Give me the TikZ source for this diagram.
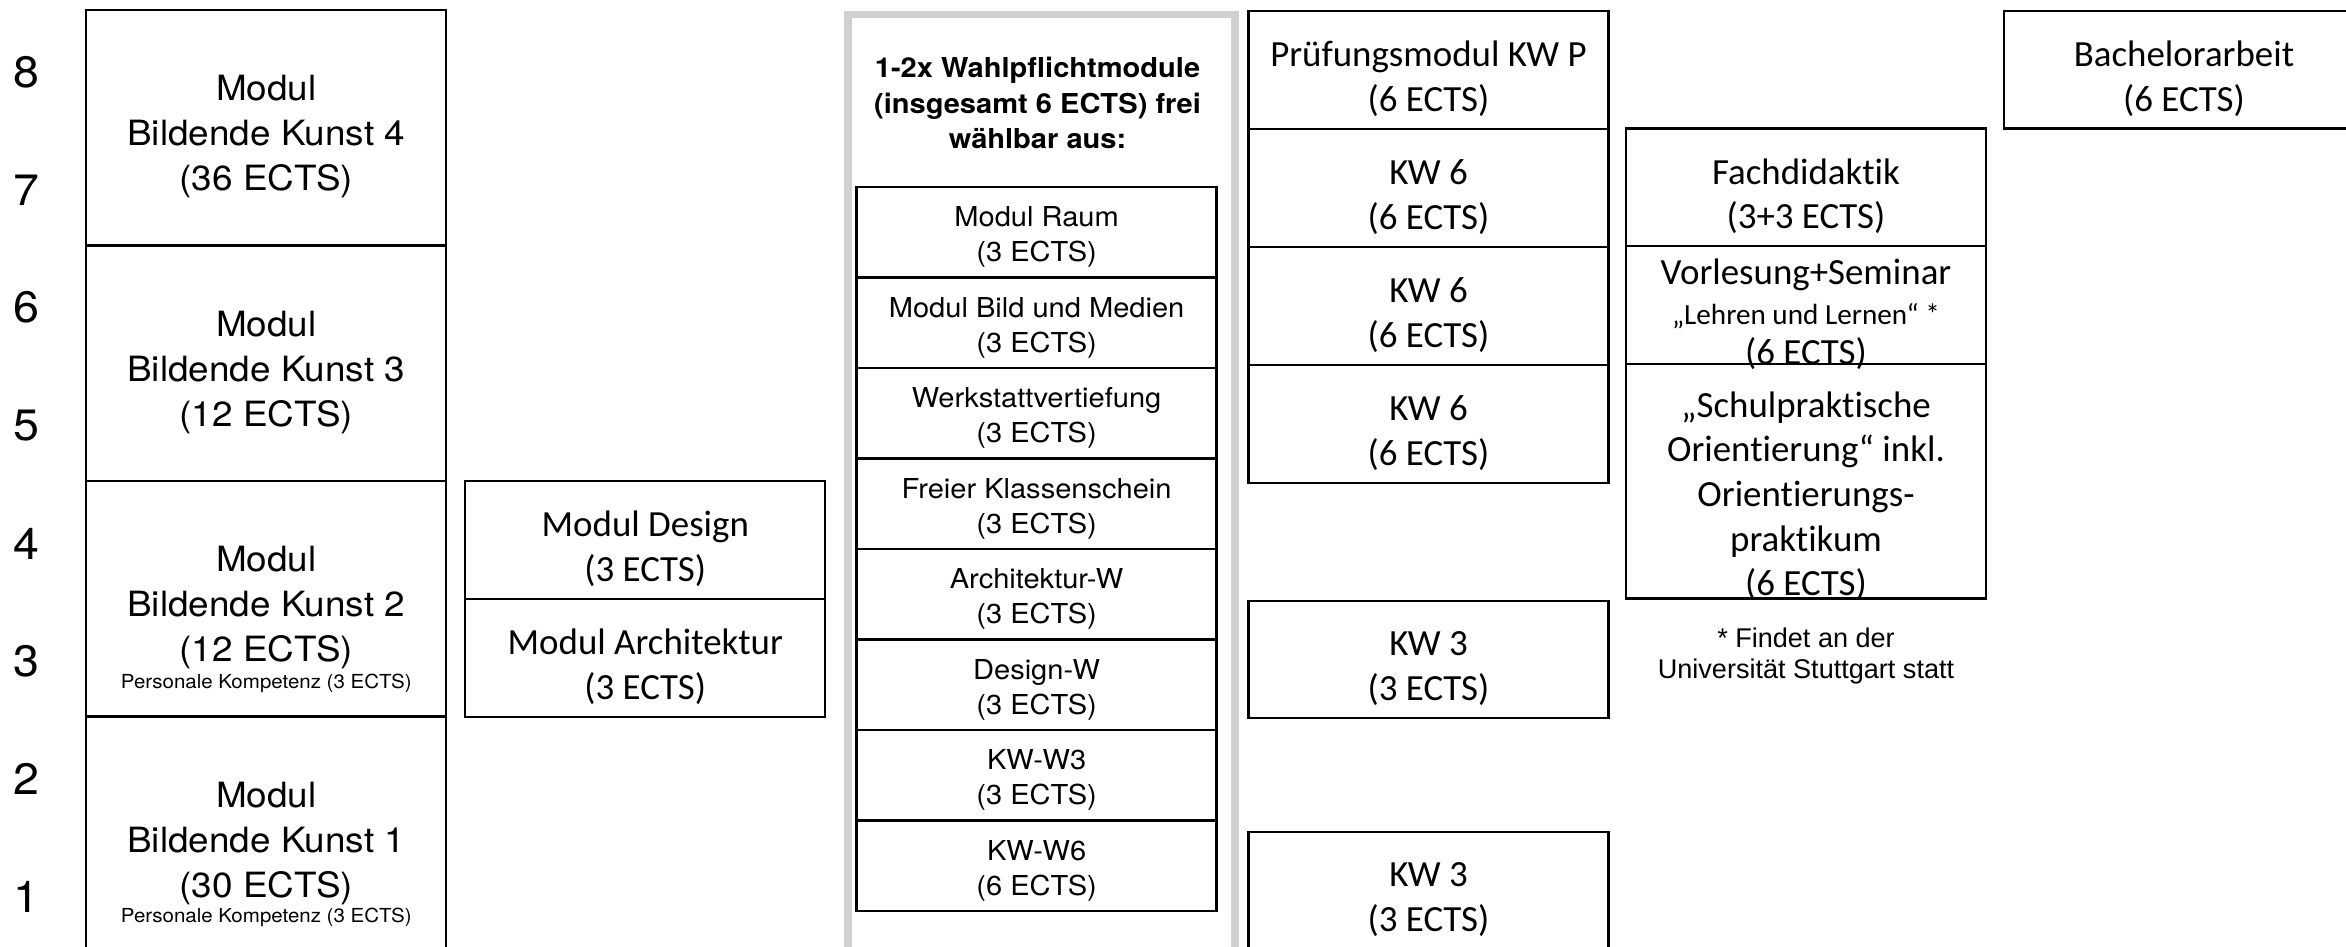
\documentclass[tikz,border=0pt]{standalone}
\usepackage{fontspec}
\setmainfont[FakeStretch=1.06]{TeX Gyre Heros}
\newfontfamily\calibri[Ligatures=NoCommon]{Carlito}
\newfontfamily\arial{Liberation Sans}
\usetikzlibrary{positioning}

\tikzset{
	box/.style={draw, line width=0.65pt, minimum width=3.6cm, inner sep=0pt, outer sep=0pt},
	cal/.style={align=center, yshift=-0.9mm, font=\calibri\fontsize{10.5}{12.8}\selectfont},
	grot/.style={align=center, yshift=-0.9mm, font=\fontsize{9.9}{12.8}\selectfont},
	wtxt/.style={align=center, yshift=-0.5mm, font=\fontsize{7.8}{10}\selectfont},
	pk/.style={font=\fontsize{5.5}{6}\selectfont},
}

\begin{document}
\begin{tikzpicture}
	\useasboundingbox (0,0) rectangle (23.46,-9.47);
	\clip (0,0) rectangle (23.46,-9.47);
	
	% Semester
	\foreach \n in {1,...,8}
		\node[font=\fontsize{12.5}{14}\selectfont] (sem\n) at (0.26,{-0.72-(8-\n)*1.1786}) {\n};
	
	% Bildende Kunst
	\node[box, minimum height=2.355cm, label={[grot]center:{Modul\\Bildende Kunst 4\\(36 ECTS)}}] (bk4) at (2.663,-1.2775) {};
	\node[box, minimum height=2.355cm, below=0pt of bk4, label={[grot]center:{Modul\\Bildende Kunst 3\\(12 ECTS)}}] (bk3) {};
	\node[box, minimum height=2.355cm, below=0pt of bk3, label={[grot]center:{Modul\\Bildende Kunst 2\\(12 ECTS)}}] (bk2) {};
	\node[box, minimum height=2.355cm, below=0pt of bk2, label={[grot]center:{Modul\\Bildende Kunst 1\\(30 ECTS)}}] (bk1) {};
	\node[pk] (pk2) at ([yshift=3.3mm]bk2.south) {Personale Kompetenz (3 ECTS)};
	\node[pk] (pk1) at ([yshift=3.5mm]bk1.south) {Personale Kompetenz (3 ECTS)};
	
	\node[box, minimum height=1.18cm, label={[cal]center:{Modul Design\\(3 ECTS)}}] (design) at (6.453,-5.40) {};
	\node[box, minimum height=1.18cm, below=0pt of design, label={[cal]center:{Modul Architektur\\(3 ECTS)}}] (archi) {};
	
	% Wahlpflicht
	\node[draw=gray!37, line width=2.2pt, minimum width=3.87cm, minimum height=9.8cm, inner sep=0pt, anchor=north west] (wahl) at (8.44,-0.107) {};
	\node[font=\bfseries\fontsize{7.8}{10}\selectfont, align=center] (wahlkopf) at (10.375,-1.03) {1-2x Wahlpflichtmodule\\(insgesamt 6 ECTS) frei\\wählbar aus:};
	\foreach \t/\e [count=\i] in {Modul Raum/3, Modul Bild und Medien/3, Werkstattvertiefung/3, Freier Klassenschein/3, Architektur-W/3, Design-W/3, KW-W3/3, KW-W6/6}
		\node[box, minimum height=0.905cm, label={[wtxt]center:{\t\\(\e\ ECTS)}}] (w\i) at (10.366,{-1.87-0.905*(\i-0.5)}) {};
	
	% Kuenstlerische Werkstatt
	\node[box, minimum height=1.18cm, label={[cal]center:{Prüfungsmodul KW P\\(6 ECTS)}}] (kwp) at (14.285,-0.70) {};
	\foreach \a/\b in {kwp/kw6a, kw6a/kw6b, kw6b/kw6c}
		\node[box, minimum height=1.18cm, below=0pt of \a, label={[cal]center:{KW 6\\(6 ECTS)}}] (\b) {};
	\node[box, minimum height=1.175cm, label={[cal]center:{KW 3\\(3 ECTS)}}] (kw3a) at (14.285,-6.595) {};
	\node[box, minimum height=1.175cm, label={[cal]center:{KW 3\\(3 ECTS)}}] (kw3b) at (14.285,-8.91) {};
	
	% Fachdidaktik
	\node[box, minimum height=1.175cm, label={[cal]center:{Fachdidaktik\\(3+3 ECTS)}}] (fach) at (18.06,-1.8725) {};
	\node[box, minimum height=1.18cm, below=0pt of fach, label={[cal, font=\calibri\fontsize{10.5}{11.4}\selectfont]center:{Vorlesung+Seminar\\{\fontsize{8.3}{9}\selectfont „Lehren und Lernen“ *}\\(6 ECTS)}}] (vorl) {};
	\node[box, minimum height=2.345cm, below=0pt of vorl, label={[cal, yshift=-0.6mm, font=\calibri\fontsize{10.5}{12.7}\selectfont]center:{„Schulpraktische\\Orientierung“ inkl.\\Orientierungs-\\praktikum\\(6 ECTS)}}] (schul) {};
	\node[font=\arial\fontsize{7.7}{8.8}\selectfont, align=center] (fussnote) at (18.06,-6.56) {* Findet an der\\Universität Stuttgart statt};
	
	\node[box, minimum height=1.175cm, label={[cal]center:{Bachelorarbeit\\(6 ECTS)}}] (ba) at (21.84,-0.6975) {};
\end{tikzpicture}
\end{document}
